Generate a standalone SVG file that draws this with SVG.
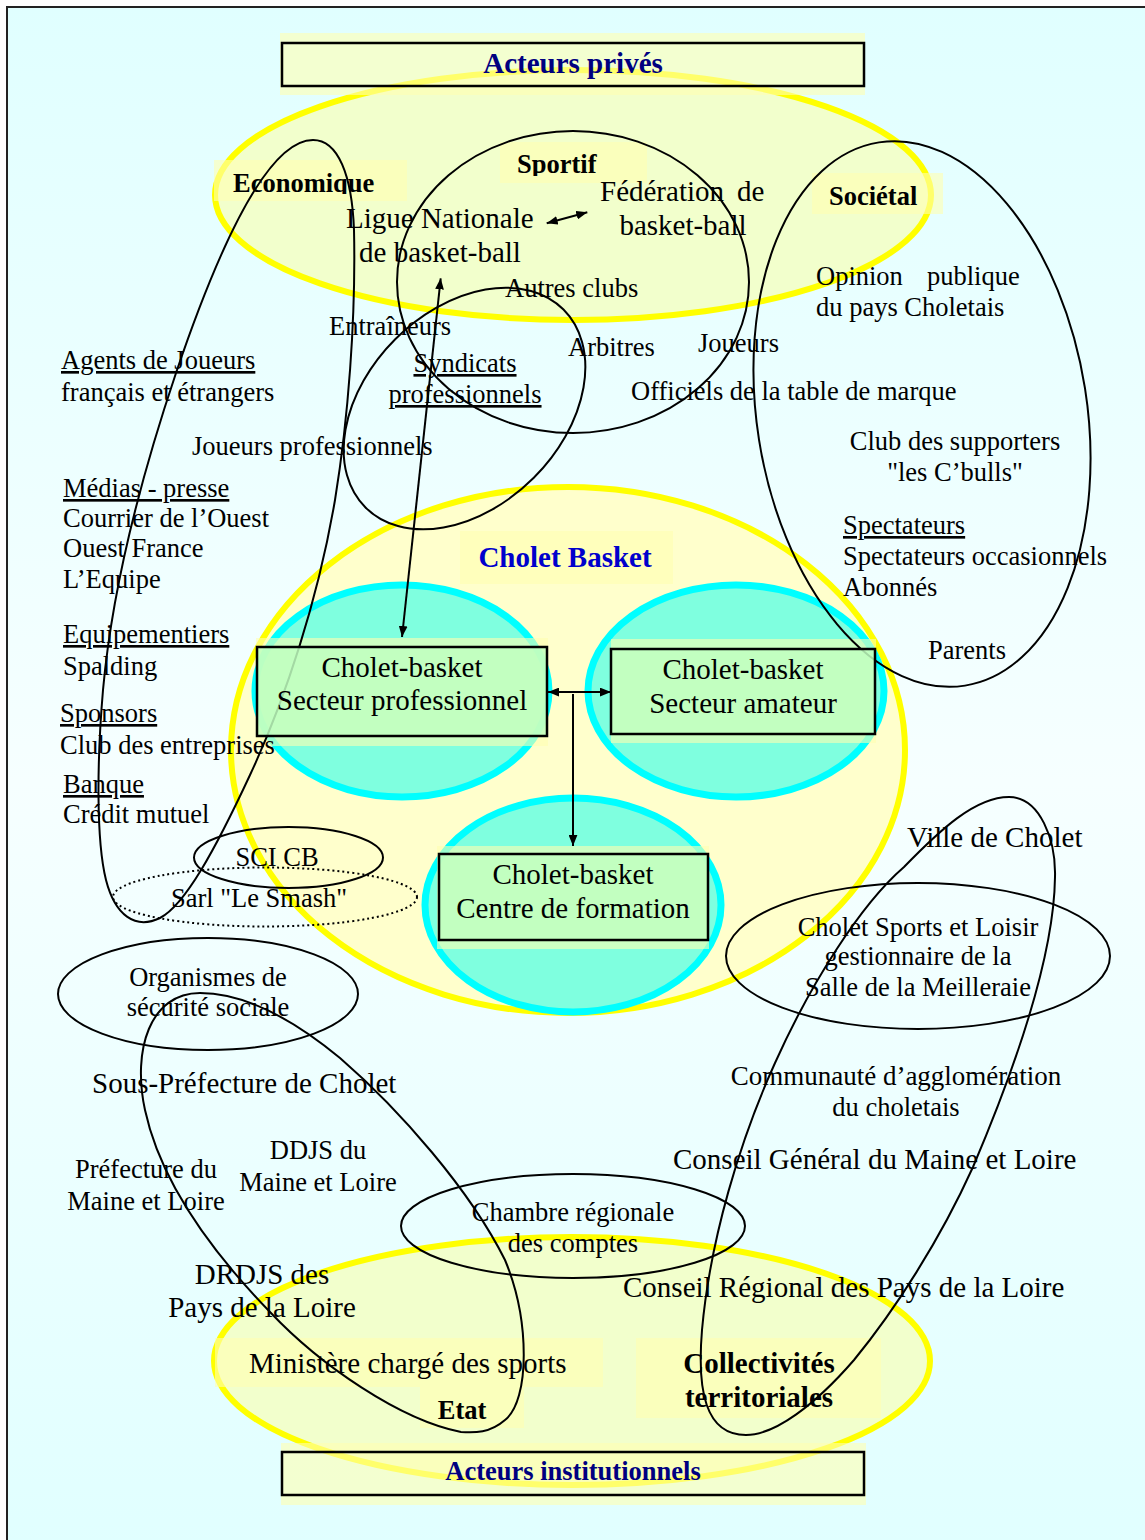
<svg xmlns="http://www.w3.org/2000/svg" width="1145" height="1540" viewBox="0 0 1145 1540">
<defs>
<linearGradient id="bg" x1="0" y1="0" x2="0" y2="1">
<stop offset="0" stop-color="#e0ffff"/>
<stop offset="0.5" stop-color="#f6ffff"/>
<stop offset="1" stop-color="#e0ffff"/>
</linearGradient>
<marker id="ah" viewBox="0 0 10 8" refX="10" refY="4" markerWidth="11" markerHeight="9" markerUnits="userSpaceOnUse" orient="auto-start-reverse"><path d="M0,0 L10,4 L0,8 Z" fill="#000"/></marker>
<clipPath id="clipEco"><rect x="200" y="150" width="220" height="44"/></clipPath>
<clipPath id="clipSport"><rect x="490" y="130" width="170" height="46"/></clipPath>
<style>
.t{font-family:"Liberation Serif","Times New Roman",serif;font-size:26.5px;fill:#000}
.l{font-size:29px}
.b{font-weight:bold}
.c{text-anchor:middle}
.u{text-decoration:underline}
.ye{fill:#f2ffcc;stroke:#ffff00;stroke-width:6}
.yc{fill:#ffffcc;stroke:#ffff00;stroke-width:6}
.cy{fill:#7fffdf;stroke:#00ffff;stroke-width:7}
.band{fill:#ffffb0;fill-opacity:0.6}
.loop{fill:none;stroke:#000;stroke-width:2}
.box{fill:#c0ffc0;fill-opacity:0.85;stroke:#000;stroke-width:2.5}
.hdr{fill:none;stroke:#000;stroke-width:2.5}
.arr{stroke:#000;stroke-width:2;fill:none}
.navy{fill:#000080}
.blue{fill:#0000cc}
</style>
</defs>

<rect x="0" y="0" width="1145" height="1540" fill="#ffffff"/>
<rect x="7" y="7" width="1150" height="1550" fill="url(#bg)" stroke="#222" stroke-width="2"/>

<g id="zones">
<ellipse class="ye" cx="573" cy="195" rx="358" ry="125"/>
<ellipse class="ye" cx="572" cy="1361" rx="358" ry="124"/>
<ellipse class="yc" cx="568" cy="750" rx="337" ry="263"/>
<ellipse class="cy" cx="402" cy="691" rx="147" ry="106"/>
<ellipse class="cy" cx="736" cy="691" rx="148" ry="106"/>
<ellipse class="cy" cx="573" cy="905" rx="148" ry="107"/>
</g>

<g id="bands">
<rect class="band" x="280" y="33" width="585" height="62"/>
<rect class="band" x="281" y="1443" width="585" height="62"/>
<rect class="band" x="214" y="160" width="193" height="41"/>
<rect class="band" x="500" y="142" width="147" height="41"/>
<rect class="band" x="812" y="173" width="131" height="41"/>
<rect class="band" x="460" y="531" width="213" height="53"/>
<rect class="band" x="256" y="638" width="292" height="108"/>
<rect class="band" x="611" y="639" width="265" height="104"/>
<rect class="band" x="437" y="846" width="272" height="103"/>
<rect class="band" x="215" y="1338" width="388" height="49"/>
<rect class="band" x="420" y="1387" width="104" height="41"/>
<rect class="band" x="636" y="1338" width="245" height="80"/>
</g>

<g id="acteurs-prives">
<rect class="hdr" x="282" y="43" width="582" height="43"/>
<text class="t l b c navy" x="573" y="73">Acteurs privés</text>
</g>
<g id="acteurs-institutionnels">
<rect class="hdr" x="282" y="1452" width="582" height="43"/>
<text class="t b c navy" x="573" y="1480">Acteurs institutionnels</text>
</g>

<g id="groupings">
<ellipse id="sportif-loop" class="loop" cx="573" cy="282" rx="176" ry="151"/>
<ellipse id="syndicats-loop" class="loop" cx="0" cy="0" rx="140" ry="98" transform="translate(464.5,408.5) rotate(-45)"/>
<ellipse id="societal-loop" class="loop" cx="0" cy="0" rx="165" ry="275" transform="translate(922,414) rotate(-9)"/>
<path id="economique-loop" class="loop" d="M313,140 C338,140 352,175 354,230 C356,320 348,420 335,500 C318,600 285,700 250,775 C215,850 185,905 160,918 C135,930 115,915 106,880 C96,840 97,760 103,690 C112,590 140,480 176,373 C215,258 265,140 313,140 Z"/>
<ellipse id="scicb-loop" class="loop" cx="288.5" cy="857.5" rx="94.5" ry="30.5"/>
<ellipse id="sarl-loop" class="loop" cx="265" cy="897" rx="152" ry="29.5" stroke-dasharray="2 3" stroke-width="1.8"/>
<ellipse id="secu-loop" class="loop" cx="208" cy="994" rx="150" ry="56"/>
<path id="etat-loop" class="loop" d="M200,993 C250,993 300,1025 340,1058 C400,1110 470,1190 505,1260 C530,1320 530,1400 505,1420 C490,1433 475,1433 461,1432 C400,1420 320,1365 270,1312 C210,1250 160,1180 145,1110 C132,1050 150,993 200,993 Z"/>
<ellipse id="csl-loop" class="loop" cx="918" cy="956" rx="192" ry="73"/>
<path id="collectivites-loop" class="loop" d="M1009,797 C1040,797 1056,840 1055,877 C1054,960 1010,1080 973,1167 C940,1240 895,1310 854,1360 C815,1405 775,1435 746,1435 C705,1435 697,1390 702,1330 C710,1240 740,1140 775,1063 C810,985 860,905 904,867 C940,830 975,797 1009,797 Z"/>
<ellipse id="chambre-loop" class="loop" cx="573" cy="1226" rx="172" ry="52"/>
</g>

<g id="cb-pro">
<rect class="box" x="257" y="647" width="290" height="89"/>
<text class="t l c" x="402" y="677">Cholet-basket</text>
<text class="t l c" x="402" y="710">Secteur professionnel</text>
</g>
<g id="cb-amateur">
<rect class="box" x="611" y="649" width="264" height="85"/>
<text class="t l c" x="743" y="679">Cholet-basket</text>
<text class="t l c" x="743" y="713">Secteur amateur</text>
</g>
<g id="cb-formation">
<rect class="box" x="439" y="854" width="269" height="86"/>
<text class="t l c" x="573" y="884">Cholet-basket</text>
<text class="t l c" x="573" y="918">Centre de formation</text>
</g>

<g id="connectors">
<line class="arr" x1="546.7" y1="223.3" x2="587.3" y2="212.3" marker-start="url(#ah)" marker-end="url(#ah)"/>
<line class="arr" x1="440.7" y1="278.3" x2="402" y2="637" marker-start="url(#ah)" marker-end="url(#ah)"/>
<line class="arr" x1="548" y1="692" x2="611" y2="692" marker-start="url(#ah)" marker-end="url(#ah)"/>
<line class="arr" x1="573" y1="694" x2="573" y2="846" marker-end="url(#ah)"/>
</g>

<g id="labels">
<text class="t b" x="233" y="192" clip-path="url(#clipEco)">Economique</text>
<text class="t b" x="517" y="173" clip-path="url(#clipSport)">Sportif</text>
<text class="t b" x="829" y="205">Sociétal</text>
<text class="t l b c blue" x="565" y="567">Cholet Basket</text>
<text class="t l" x="249" y="1373">Ministère chargé des sports</text>
<text class="t b c" x="462" y="1419">Etat</text>
<text class="t l b c" x="759" y="1373">Collectivités</text>
<text class="t l b c" x="759" y="1407">territoriales</text>
</g>

<g id="sportif-items">
<text class="t l" x="346" y="228">Ligue Nationale</text>
<text class="t l c" x="440" y="262">de basket-ball</text>
<text class="t l" x="600" y="201">Fédération</text>
<text class="t l" x="737" y="201">de</text>
<text class="t l c" x="683" y="235">basket-ball</text>
<text class="t" x="505" y="297">Autres clubs</text>
<text class="t" x="329" y="335">Entraîneurs</text>
<text class="t" x="568" y="356">Arbitres</text>
<text class="t" x="698" y="352">Joueurs</text>
<text class="t u c" x="465" y="372">Syndicats</text>
<text class="t u c" x="465" y="403">professionnels</text>
<text class="t" x="631" y="400">Officiels de la table de marque</text>
<text class="t" x="192" y="455">Joueurs professionnels</text>
</g>

<g id="economique-items">
<text class="t u" x="61" y="369">Agents de Joueurs</text>
<text class="t" x="61" y="401">français et étrangers</text>
<text class="t u" x="63" y="497">Médias - presse</text>
<text class="t" x="63" y="527">Courrier de l’Ouest</text>
<text class="t" x="63" y="557">Ouest France</text>
<text class="t" x="63" y="588">L’Equipe</text>
<text class="t u" x="63" y="643">Equipementiers</text>
<text class="t" x="63" y="675">Spalding</text>
<text class="t u" x="60" y="722">Sponsors</text>
<text class="t" x="60" y="754">Club des entreprises</text>
<text class="t u" x="63" y="793">Banque</text>
<text class="t" x="63" y="823">Crédit mutuel</text>
<text class="t c" x="277" y="866">SCI CB</text>
<text class="t c" x="259" y="907">Sarl "Le Smash"</text>
</g>

<g id="societal-items">
<text class="t" x="816" y="285">Opinion</text>
<text class="t" x="927" y="285">publique</text>
<text class="t" x="816" y="316">du pays Choletais</text>
<text class="t c" x="955" y="450">Club des supporters</text>
<text class="t c" x="955" y="481">"les C’bulls"</text>
<text class="t u" x="843" y="534">Spectateurs</text>
<text class="t" x="843" y="565">Spectateurs occasionnels</text>
<text class="t" x="843" y="596">Abonnés</text>
<text class="t" x="928" y="659">Parents</text>
</g>

<g id="institution-items">
<text class="t c" x="208" y="986">Organismes de</text>
<text class="t c" x="208" y="1016">sécurité sociale</text>
<text class="t l" x="92" y="1093">Sous-Préfecture de Cholet</text>
<text class="t c" x="146" y="1178">Préfecture du</text>
<text class="t c" x="146" y="1210">Maine et Loire</text>
<text class="t c" x="318" y="1159">DDJS du</text>
<text class="t c" x="318" y="1191">Maine et Loire</text>
<text class="t l c" x="262" y="1284">DRDJS des</text>
<text class="t l c" x="262" y="1317">Pays de la Loire</text>
<text class="t c" x="573" y="1221">Chambre régionale</text>
<text class="t c" x="573" y="1252">des comptes</text>
<text class="t l" x="907" y="847">Ville de Cholet</text>
<text class="t c" x="918" y="936">Cholet Sports et Loisir</text>
<text class="t c" x="918" y="965">gestionnaire de la</text>
<text class="t c" x="918" y="996">Salle de la Meilleraie</text>
<text class="t c" x="896" y="1085" style="font-size:27px">Communauté d’agglomération</text>
<text class="t c" x="896" y="1116">du choletais</text>
<text class="t l" x="673" y="1169">Conseil Général du Maine et Loire</text>
<text class="t l" x="623" y="1297">Conseil Régional des Pays de la Loire</text>
</g>
</svg>
